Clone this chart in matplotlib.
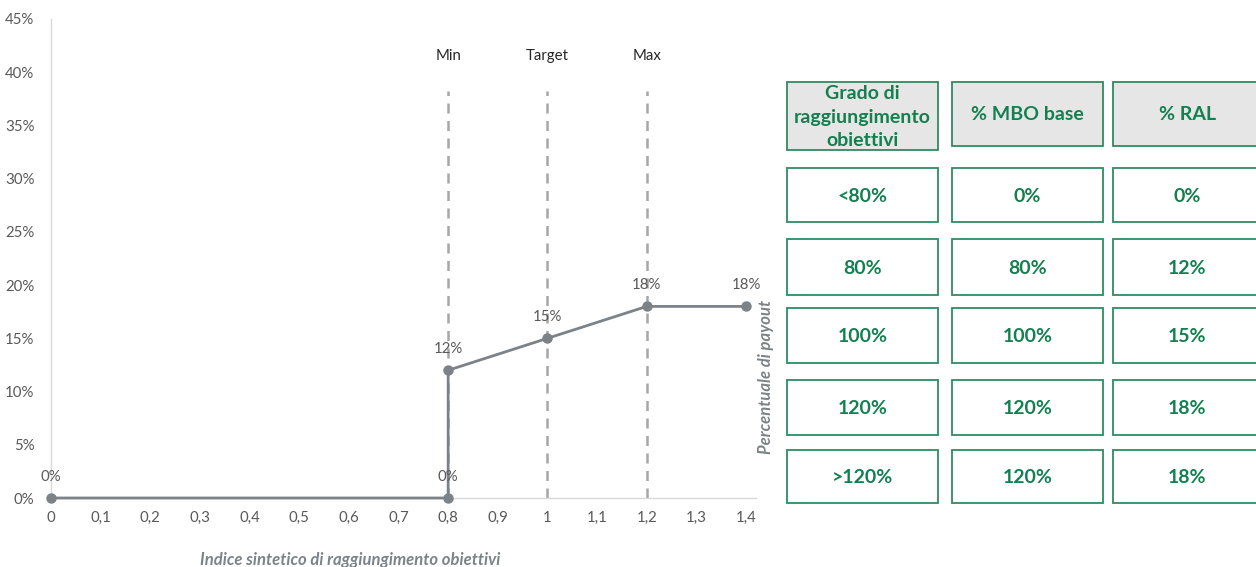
import matplotlib
matplotlib.use("Agg")
from matplotlib import pyplot as plt
from matplotlib.patches import Rectangle
import numpy as np

plt.rcParams['font.family'] = ['Lato', 'DejaVu Sans']

# curva di payout
indice = [0, 0.8, 0.8, 1.0, 1.2, 1.4]
payout = [0, 0, 12, 15, 18, 18]
etichette = ['0%', '0%', '12%', '15%', '18%', '18%']

# soglie
soglie_x = [0.8, 1.0, 1.2]
soglie_nome = ['Min', 'Target', 'Max']

xticks = np.arange(0, 1.41, 0.1)
yticks = np.arange(0, 46, 5)

# tabella
intestazioni = ['Grado di\nraggiungimento\nobiettivi', '% MBO base', '% RAL']
col_grado = ['<80%', '80%', '100%', '120%', '>120%']
col_mbo = ['0%', '80%', '100%', '120%', '120%']
col_ral = ['0%', '12%', '15%', '18%', '18%']

W, H = 1256, 567
fig = plt.figure(figsize=(W / 100, H / 100), dpi=100)
ax = fig.add_axes([51 / W, (H - 498) / H, (746 - 51) / W, (498 - 19) / H])

grigio = '#7b8288'
testo = '#595959'
fs = 10.8

for xs in soglie_x:
    ax.plot([xs, xs], [0, 38.2], color='#a6a6a6', lw=1.8, ls=(0, (4, 3)), zorder=1)
for xs, nome in zip(soglie_x, soglie_nome):
    ax.text(xs, 41.5, nome, ha='center', va='center', fontsize=fs, color='#262626')

ax.plot(indice, payout, color=grigio, lw=2, marker='o', ms=6.5, zorder=3, clip_on=False)
for xv, yv, lab in zip(indice, payout, etichette):
    ax.text(xv, yv + 2.0, lab, ha='center', va='center', fontsize=fs, color=testo)

ax.set_xlim(0, 1.4)
ax.set_ylim(0, 45)
ax.set_xticks(xticks)
ax.set_xticklabels([('%g' % round(v, 1)).replace('.', ',') for v in xticks])
ax.set_yticks(yticks)
ax.set_yticklabels(['%d%%' % v for v in yticks])
ax.tick_params(length=0, labelsize=fs, labelcolor=testo)
ax.tick_params(axis='x', pad=9)
ax.tick_params(axis='y', pad=12)
for s in ['top', 'right']:
    ax.spines[s].set_visible(False)
for s in ['left', 'bottom']:
    ax.spines[s].set_color('#d9d9d9')
    ax.spines[s].set_linewidth(1)
ax.spines['bottom'].set_bounds(0, 1.42)

fig.text(350 / W, 1 - 560 / H, 'Indice sintetico di raggiungimento obiettivi',
         ha='center', va='center', fontsize=12, style='italic', color=grigio,
         fontweight='bold')
fig.text(766 / W, 1 - 377 / H, 'Percentuale di payout', ha='center', va='center',
         rotation=90, fontsize=12, style='italic', color=grigio, fontweight='bold')

# tabella a destra, in coordinate pixel
tab = fig.add_axes([0, 0, 1, 1])
tab.set_xlim(0, W)
tab.set_ylim(H, 0)
tab.axis('off')

verde_bordo = '#2e8b62'
verde_testo = '#12804f'
col_x = [(787, 938), (952, 1103), (1113, 1262)]
righe_y = [(82, 150), (168, 222), (239, 295), (308, 363), (380, 435), (450, 503)]
colonne = [col_grado, col_mbo, col_ral]

for ci, (x0, x1) in enumerate(col_x):
    for ri, (y0, y1) in enumerate(righe_y):
        if ri == 0:
            fc = '#e7e6e6'
            if ci > 0:
                y1 = 146
            txt = intestazioni[ci]
        else:
            fc = 'white'
            txt = colonne[ci][ri - 1]
        tab.add_patch(Rectangle((x0, y0), x1 - x0, y1 - y0, facecolor=fc,
                                edgecolor=verde_bordo, lw=1.3))
        tab.text((x0 + x1) / 2, (y0 + y1) / 2 + 1, txt, ha='center', va='center',
                 fontsize=14, fontweight='bold', color=verde_testo, linespacing=1.45)

fig.savefig('out.png', dpi=100)
